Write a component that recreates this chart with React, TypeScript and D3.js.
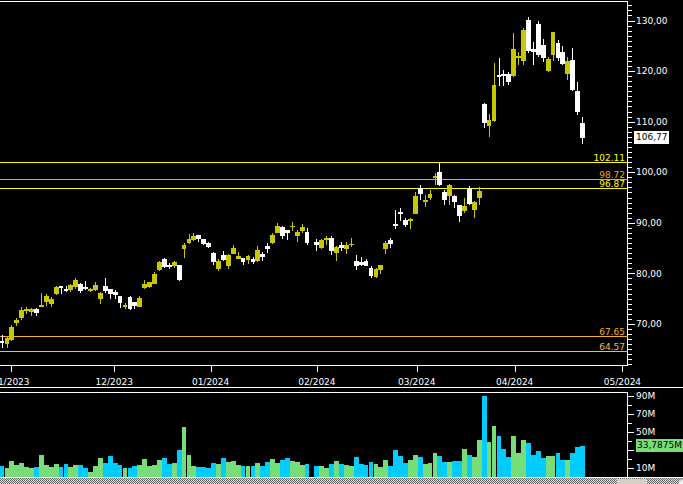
import * as d3 from 'd3';

// trading-day index 0..118 (late Oct 2023 -> Apr 2024); index 63 has no data
const opens: (number | null)[] = [
  66.6, 66.1, 66.8, 70.1, 71.2, 72.6, 72.4, 72.9, 73.4, 74.4,
  74.0, 75.9, 77.5, 76.9, 76.7, 77.4, 77.9, 77.3, 76.6, 76.7,
  75.0, 77.5, 77.0, 76.3, 75.5, 73.3, 75.3, 74.4, 73.35, 77.1,
  77.4, 78.0, 80.7, 82.9, 81.7, 81.5, 81.7, 84.75, 86.1, 86.6,
  87.6, 86.8, 86.1, 84.1, 80.8, 83.7, 81.5, 83.9, 82.9, 83.0,
  82.65, 82.9, 82.45, 83.9, 85.4, 86.0, 88.05, 89.2, 88.6, 89.1,
  87.3, 88.45, 88.2, null, 86.15, 85.0, 86.6, 87.0, 84.1, 85.6,
  84.8, 85.55, 82.45, 82.3, 82.55, 81.1, 79.3, 80.7, 84.8, 86.6,
  89.8, 92.2, 90.6, 90.4, 91.75, 96.9, 94.1, 94.9, 98.85, 100.05,
  96.1, 95.3, 95.3, 93.5, 92.3, 96.9, 92.5, 94.9, 113.4, 109.2,
  110.2, 119.2, 119.4, 119.4, 119.0, 122.5, 122.0, 130.1, 124.4, 129.3,
  125.2, 120.0, 123.2, 125.55, 123.8, 119.4, 122.2, 116.05, 109.7,
];
const highs: (number | null)[] = [
  67.9, 67.4, 69.8, 71.1, 73.3, 73.3, 73.2, 73.1, 76.1, 75.9,
  75.3, 77.5, 77.6, 77.5, 78.0, 79.0, 78.2, 78.5, 77.2, 78.3,
  76.4, 79.0, 77.0, 76.7, 75.6, 74.1, 75.5, 74.4, 75.5, 78.7,
  78.4, 80.3, 82.5, 83.1, 82.1, 82.5, 81.7, 86.1, 87.7, 87.9,
  87.6, 86.8, 86.2, 84.2, 82.8, 84.4, 83.8, 85.6, 84.2, 83.0,
  83.6, 83.3, 85.4, 84.2, 86.0, 87.9, 89.9, 89.4, 88.6, 90.2,
  88.6, 89.8, 89.0, null, 86.9, 86.9, 87.4, 87.4, 85.4, 86.2,
  86.2, 87.0, 83.6, 83.2, 82.85, 81.5, 81.1, 81.65, 86.5, 87.0,
  92.5, 92.9, 91.0, 91.0, 96.1, 97.5, 95.5, 96.5, 99.85, 102.11,
  96.5, 97.7, 95.5, 93.5, 94.9, 97.3, 94.3, 97.1, 113.75, 111.5,
  121.65, 122.6, 120.2, 119.8, 127.5, 123.8, 128.5, 130.7, 125.75, 129.9,
  126.3, 122.8, 127.7, 126.1, 125.0, 122.8, 124.6, 117.8, 110.9,
];
const lows: (number | null)[] = [
  65.2, 65.2, 66.6, 69.6, 70.8, 72.0, 71.6, 71.6, 73.3, 73.6,
  73.4, 75.8, 75.9, 76.3, 76.4, 77.0, 76.2, 76.7, 76.4, 76.5,
  74.0, 76.2, 74.9, 74.9, 73.2, 73.0, 72.8, 73.0, 73.3, 77.0,
  77.1, 77.9, 80.5, 81.1, 80.8, 81.1, 78.5, 83.1, 85.8, 86.5,
  86.2, 85.7, 85.0, 81.7, 80.5, 82.4, 80.9, 83.8, 82.8, 81.7,
  81.9, 81.8, 82.3, 82.45, 84.1, 85.8, 88.0, 86.9, 86.7, 88.4,
  86.2, 88.0, 85.7, null, 84.5, 84.8, 85.6, 83.6, 82.5, 84.5,
  83.8, 85.3, 80.7, 81.5, 81.5, 79.1, 79.1, 79.9, 83.8, 85.1,
  88.8, 90.4, 89.2, 88.8, 91.7, 94.5, 93.1, 94.5, 97.5, 97.3,
  93.5, 93.5, 92.9, 90.2, 91.9, 93.5, 90.9, 93.5, 108.8, 107.0,
  110.0, 117.05, 117.05, 117.25, 118.9, 121.2, 121.2, 123.6, 121.2, 122.8,
  121.8, 119.8, 122.0, 122.0, 121.2, 118.2, 116.05, 111.3, 105.6,
];
const closes: (number | null)[] = [
  66.2, 67.2, 69.5, 70.8, 72.8, 73.0, 73.0, 72.1, 73.7, 75.5,
  75.0, 77.4, 77.1, 76.5, 77.7, 78.7, 76.6, 76.9, 77.0, 77.7,
  76.2, 76.5, 75.9, 75.8, 74.2, 73.8, 72.9, 73.6, 75.1, 78.0,
  78.3, 79.9, 82.3, 81.35, 81.3, 82.3, 78.6, 85.7, 86.8, 87.3,
  86.8, 85.8, 85.3, 82.3, 82.5, 82.7, 83.7, 85.1, 83.4, 82.2,
  83.4, 82.3, 84.6, 83.3, 84.8, 87.6, 89.4, 87.4, 88.05, 89.4,
  88.2, 89.2, 86.1, null, 85.7, 86.6, 87.0, 84.5, 85.2, 85.0,
  85.7, 85.9, 81.5, 81.7, 81.5, 79.5, 80.9, 81.65, 86.1, 85.8,
  89.4, 91.75, 89.6, 90.75, 95.3, 95.7, 94.5, 95.7, 99.25, 97.5,
  94.5, 97.5, 94.1, 91.35, 93.3, 93.7, 94.1, 96.3, 109.8, 110.3,
  117.25, 118.9, 119.0, 117.8, 124.4, 123.0, 128.1, 124.0, 123.8, 123.2,
  122.6, 122.4, 127.7, 122.6, 121.4, 122.0, 116.25, 111.9, 106.77,
];
// volume in millions
const volumes: number[] = [
  11.8, 9.6, 17.3, 12.9, 15, 10.7, 9.6, 10.7, 23.9, 12.9,
  10.7, 14, 10.7, 14, 10.7, 12.9, 12.9, 9.6, 5.1, 11.8,
  20.6, 15, 22.8, 15, 12.9, 9.6, 9.6, 11.8, 12.9, 19.5,
  11.8, 12.9, 18.4, 20.6, 14, 15, 29.4, 54.8, 23.9, 11.8,
  10.7, 10.7, 9.6, 15, 14, 20.6, 16.2, 17.3, 12.9, 11.8,
  11.8, 11.8, 15, 11.8, 16.2, 19.5, 15, 18.4, 20.6, 17.3,
  16.2, 12.9, 14, 0, 11.8, 11.8, 9.6, 14, 17.3, 14,
  12.9, 11.8, 21.7, 14, 12.9, 16.2, 14, 10.7, 18.4, 11.8,
  29.4, 22.8, 15, 18.4, 23.9, 21.7, 14, 15, 26.1, 22.8,
  16.2, 16.2, 17.3, 17.3, 30.5, 23.9, 21.7, 40.4, 90, 38.2,
  55.9, 44.9, 30.5, 21.7, 44.9, 26.1, 40.4, 37.1, 23.9, 28.3,
  20.6, 22.8, 22.8, 26.1, 18.4, 18.4, 26.1, 32.7, 33.7875,
];

const monthLabels = ['11/2023', '12/2023', '01/2024', '02/2024', '03/2024', '04/2024', '05/2024'];
const monthPos = [1.8, 22.8, 42.4, 64, 84.3, 104.2, 126.1];

const priceTicks = [70, 80, 90, 100, 110, 120, 130];
// 30M sits under the last-volume marker, so only its tick shows
const volTicks = [10, 30, 50, 70, 90];
const volLabels = [10, 50, 70, 90];

const levels = [102.11, 98.72, 96.87, 67.65, 64.57];
const levelColors = ['#ffff00', '#ffa500', '#ffff00', '#f5b020', '#f5c030'];

const W = 683;
const H = 484;
const AXIS_X = 627.5;
const FONT = '"DejaVu Sans", Verdana, sans-serif';

const UP = '#c8c800';
const DOWN = '#ffffff';
const VOL_UP = '#77dd77';
const VOL_DOWN = '#00ccff';

const fmt = (n: number) => n.toFixed(2).replace('.', ',');

export default function App() {
  const x = d3.scaleLinear().domain([0, 127]).range([2, 626.84]);
  const y = d3.scaleLinear().domain([70, 130]).range([324, 20.5]);
  const v = d3.scaleLinear().domain([0, 90]).range([476.5, 395.5]);

  const minorPrice = d3.range(62, 134);
  const volMinor = d3.range(0, 100, 10);

  const lastClose = closes[closes.length - 1] as number;
  const lastVol = volumes[volumes.length - 1];

  // pixel span of one trading day slot
  const slot = (i: number) => {
    const left = Math.round(x(i) - 2.4);
    const right = Math.round(x(i) + 2.4);
    return { left, width: right - left };
  };

  return (
    <svg
      width={W}
      height={H}
      style={{ position: 'absolute', left: 0, top: 0, display: 'block', background: '#000' }}
      fontFamily={FONT}
    >
      <defs>
        <pattern id="dither" width="2" height="2" patternUnits="userSpaceOnUse">
          <rect width="2" height="2" fill="#d8d8d8" />
          <rect width="1" height="1" fill="#6a6a6a" />
          <rect x="1" y="1" width="1" height="1" fill="#6a6a6a" />
        </pattern>
      </defs>
      <rect width={W} height={H} fill="#000" />

      <g shapeRendering="crispEdges">
        {/* frames */}
        <line x1={0} x2={AXIS_X + 0.5} y1={1.5} y2={1.5} stroke="#fff" />
        <line x1={AXIS_X} x2={AXIS_X} y1={1} y2={366} stroke="#fff" />
        <line x1={0} x2={AXIS_X + 0.5} y1={365.5} y2={365.5} stroke="#fff" />
        <line x1={0} x2={W} y1={387.5} y2={387.5} stroke="#fff" />
        <line x1={0} x2={AXIS_X + 0.5} y1={392.5} y2={392.5} stroke="#fff" />
        <line x1={AXIS_X} x2={AXIS_X} y1={392} y2={477} stroke="#fff" />
        <line x1={0} x2={W} y1={477.5} y2={477.5} stroke="#fff" />

        {/* price axis ticks */}
        {minorPrice.map((p) => {
          const major = p % 10 === 0;
          const yy = Math.round(y(p)) + 0.5;
          return (
            <line key={'pt' + p} x1={AXIS_X} x2={AXIS_X + (major ? 7 : 4)} y1={yy} y2={yy} stroke="#fff" />
          );
        })}

        {/* month ticks */}
        {monthPos.map((m, i) => {
          const xx = Math.round(x(m)) + 0.5;
          return <line key={'mt' + i} x1={xx} x2={xx} y1={366} y2={372} stroke="#fff" />;
        })}

        {/* volume axis ticks */}
        {volMinor.map((t) => {
          const major = volTicks.includes(t);
          const yy = Math.round(v(t)) + 0.5;
          return (
            <line key={'vt' + t} x1={AXIS_X} x2={AXIS_X + (major ? 6 : 4)} y1={yy} y2={yy} stroke="#fff" />
          );
        })}

        {/* level lines */}
        {levels.map((lv, i) => {
          const yy = Math.round(y(lv)) + 0.5;
          return <line key={'lv' + i} x1={0} x2={AXIS_X} y1={yy} y2={yy} stroke={levelColors[i]} />;
        })}

        {/* candles */}
        {opens.map((o, i) => {
          const c = closes[i];
          const h = highs[i];
          const l = lows[i];
          if (o == null || c == null || h == null || l == null) return null;
          const { left, width } = slot(i);
          const wx = left + 2.5;
          const col = c >= o ? UP : DOWN;
          const top = Math.round(y(Math.max(o, c)));
          const bot = Math.round(y(Math.min(o, c)));
          return (
            <g key={'c' + i}>
              <line x1={wx} x2={wx} y1={Math.round(y(h))} y2={Math.round(y(l))} stroke={col} />
              <rect x={left} y={top} width={width} height={Math.max(1, bot - top)} fill={col} />
            </g>
          );
        })}

        {/* volume bars */}
        {volumes.map((vol, i) => {
          const o = opens[i];
          const c = closes[i];
          if (!vol || o == null || c == null) return null;
          const { left, width } = slot(i);
          const top = Math.round(v(vol));
          return (
            <rect
              key={'v' + i}
              x={left}
              y={top}
              width={width}
              height={477 - top}
              fill={c >= o ? VOL_UP : VOL_DOWN}
            />
          );
        })}

        {/* scrollbar */}
        <rect x={0} y={478} width={W} height={H - 478} fill="url(#dither)" />
        <rect x={617} y={479} width={30} height={5} fill="#d4d0c8" />
      </g>
      <circle cx={682} cy={483} r={3} fill="#eee" />

      {/* price axis labels */}
      {priceTicks.map((p) => (
        <text key={'pl' + p} x={636} y={y(p)} dy="0.36em" fill="#fff" fontSize={9}>
          {fmt(p)}
        </text>
      ))}

      {/* month labels */}
      {monthLabels.map((lab, i) => (
        <text key={'ml' + i} x={x(monthPos[i])} y={385} textAnchor="middle" fill="#fff" fontSize={9}>
          {lab}
        </text>
      ))}

      {/* level labels */}
      {levels.map((lv, i) => (
        <text
          key={'ll' + i}
          x={625}
          y={Math.round(y(lv)) - 1}
          textAnchor="end"
          fill={levelColors[i]}
          fontSize={9}
        >
          {lv.toFixed(2)}
        </text>
      ))}

      {/* volume labels */}
      {volLabels.map((t) => (
        <text key={'vl' + t} x={636} y={v(t)} dy="0.36em" fill="#fff" fontSize={9}>
          {t + 'M'}
        </text>
      ))}

      {/* last price marker */}
      <rect x={634} y={Math.round(y(lastClose)) - 7} width={35} height={13} fill="#fff" shapeRendering="crispEdges" />
      <text x={636} y={y(lastClose) - 1} dy="0.36em" fill="#000" fontSize={9}>
        {fmt(lastClose)}
      </text>

      {/* last volume marker */}
      <rect x={636} y={Math.round(v(lastVol)) - 7} width={W - 636} height={13} fill={VOL_UP} shapeRendering="crispEdges" />
      <text x={637} y={v(lastVol) - 1} dy="0.36em" fill="#000" fontSize={9}>
        {lastVol.toFixed(4).replace('.', ',') + 'M'}
      </text>
    </svg>
  );
}
